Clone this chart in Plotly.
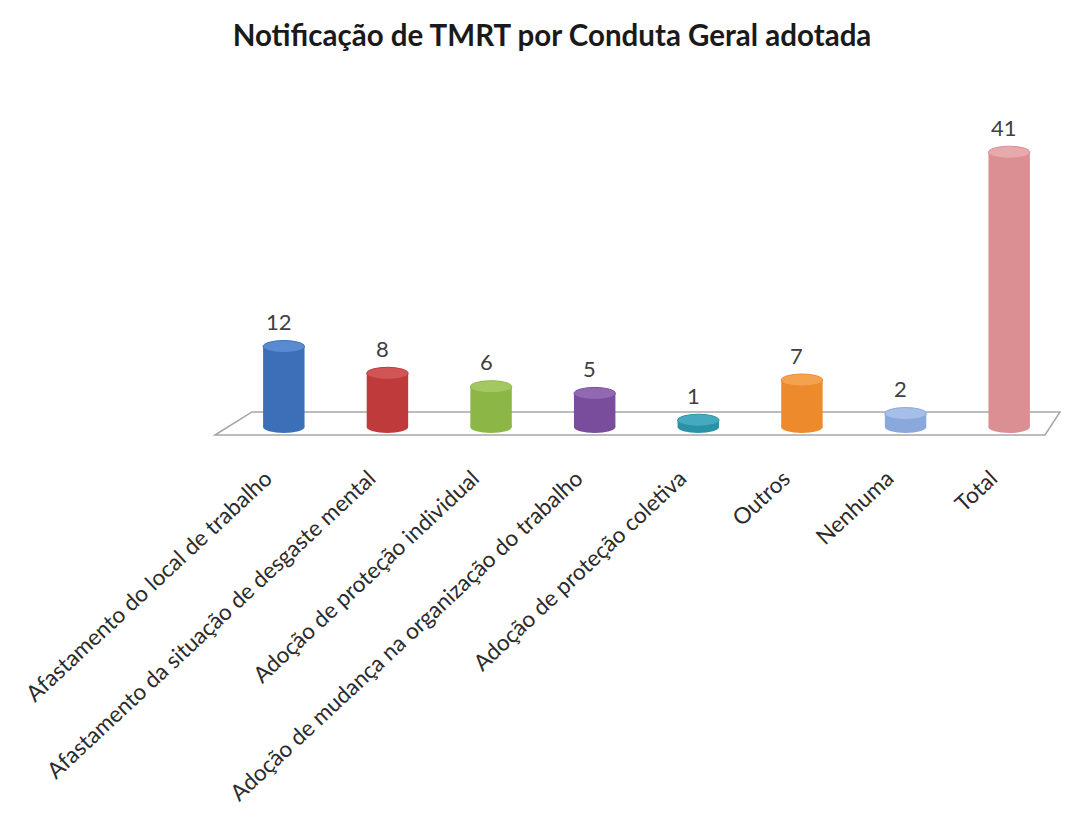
import plotly.graph_objects as go

categories = [
    "Afastamento do local de trabalho",
    "Afastamento da situação de desgaste mental",
    "Adoção de proteção individual",
    "Adoção de mudança na organização do trabalho",
    "Adoção de proteção coletiva",
    "Outros",
    "Nenhuma",
    "Total",
]
values = [12, 8, 6, 5, 1, 7, 2, 41]
colors = ["#3b70b9", "#bf3a3a", "#8cb645", "#7a4c9c", "#2a92a7", "#ec8a2c", "#8aa8db", "#db8f93"]
top_colors = ["#5a8ad0", "#d25556", "#a3c862", "#9169b3", "#45aabf", "#f5a24e", "#a5bfe8", "#e8a9ac"]

W, H = 1073, 819
OFF = 8  # page body margin
PX_L, PX_R = 232 - OFF, 1061 - OFF
PX_T, PX_B = 110 - OFF, 437 - OFF
Y_MIN, Y_MAX = -1.5, 47.3
FONT = "Lato, Open Sans, sans-serif"


def px(xp):
    return (xp - OFF - PX_L) / (PX_R - PX_L)


def py(yp):
    return (PX_B - (yp - OFF)) / (PX_B - PX_T)


fig = go.Figure()
fig.add_trace(go.Bar(
    x=categories, y=values, width=0.4,
    marker=dict(color=colors, line=dict(width=0)),
    hoverinfo="x+y",
))

shapes = []
# floor (reference pixel coordinates)
floor = [(215, 435), (252, 412), (1060, 412), (1045, 435)]
path = "M " + " L ".join(f"{px(a):.4f},{py(b):.4f}" for a, b in floor) + " Z"
shapes.append(dict(type="path", xref="paper", yref="paper", path=path,
                   line=dict(color="#a6a6a6", width=1.5), fillcolor="rgba(255,255,255,0)",
                   layer="below"))
annotations = []
for i, v in enumerate(values):
    shapes.append(dict(type="circle", xref="x", yref="y", x0=i - 0.2, x1=i + 0.2,
                       y0=-0.9, y1=0.9, fillcolor=colors[i], line=dict(width=0), layer="above"))
    shapes.append(dict(type="circle", xref="x", yref="y", x0=i - 0.2, x1=i + 0.2,
                       y0=v - 0.9, y1=v + 0.9, fillcolor=top_colors[i],
                       line=dict(color=colors[i], width=1), layer="above"))
    annotations.append(dict(x=i, y=v, xref="x", yref="y", text=str(v), showarrow=False,
                            yshift=25, xshift=-5,
                            font=dict(family=FONT, size=22, color="#404040")))

fig.update_layout(
    width=W, height=H,
    margin=dict(l=PX_L, r=W - PX_R, t=PX_T, b=H - PX_B, autoexpand=False),
    paper_bgcolor="white", plot_bgcolor="rgba(0,0,0,0)",
    showlegend=False,
    title=dict(text="<b>Notificação de TMRT por Conduta Geral adotada</b>",
               x=(552 - OFF) / W, xref="container", xanchor="center",
               y=1 - (36 - OFF) / H, yref="container", yanchor="middle",
               font=dict(family=FONT, size=29.5, color="#1a1a1a")),
    xaxis=dict(tickangle=-43, showline=False, showgrid=False, ticks="",
               ticklabelstandoff=23, ticklabelshift=-18,
               tickfont=dict(family=FONT, size=22.5, color="#2b2b2b")),
    yaxis=dict(range=[Y_MIN, Y_MAX], visible=False, showgrid=False, zeroline=False),
    shapes=shapes,
    annotations=annotations,
)

fig.write_html("out.html")
